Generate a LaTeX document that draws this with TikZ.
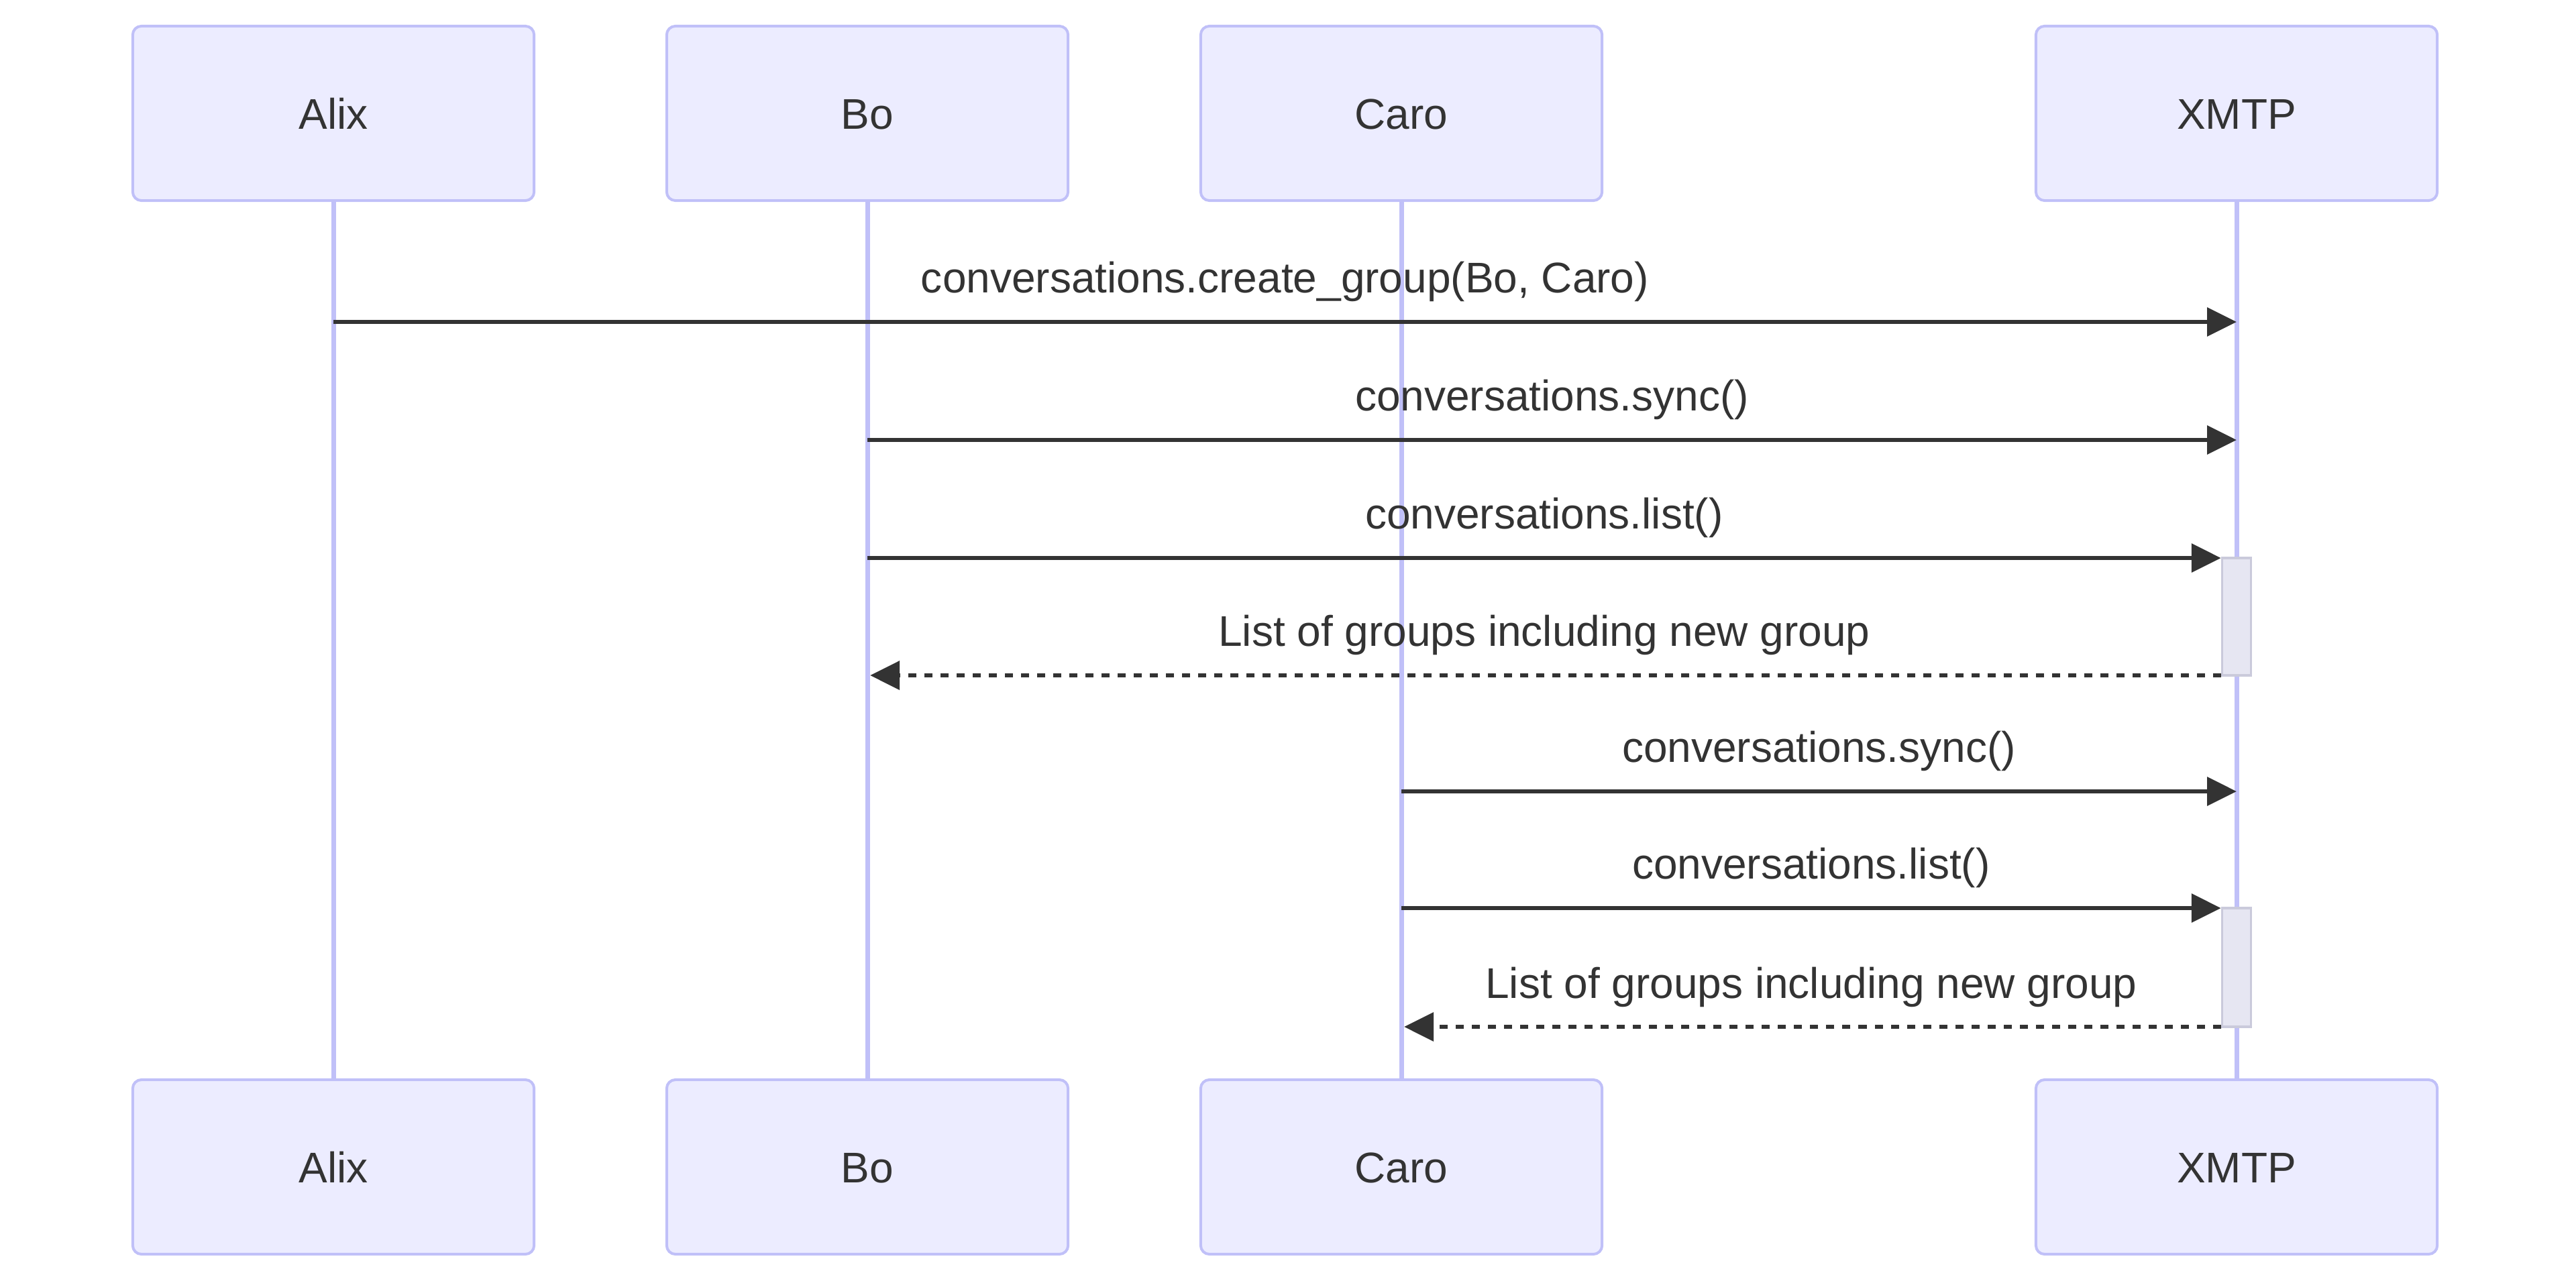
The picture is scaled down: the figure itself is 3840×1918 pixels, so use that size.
\documentclass[tikz,border=0pt]{standalone}
\usepackage{fontspec}
\setmainfont{Liberation Sans}
\usepackage{tikz}
\usetikzlibrary{arrows.meta}
\usetikzlibrary{fit}
\definecolor{actorfill}{HTML}{ECECFF}
\definecolor{actorline}{HTML}{C0C0F8}
\definecolor{textdark}{HTML}{333333}
\definecolor{actfill}{HTML}{E6E6F2}
\definecolor{actline}{HTML}{CACADB}
\tikzset{
    actor/.style={
        draw=actorline, fill=actorfill, line width=0.04cm,
        rounded corners=0.13cm,
        minimum width=5.98cm, minimum height=2.60cm,
        text height=0.47cm, text depth=0pt,
        text=textdark, font=\fontsize{18.2}{22}\selectfont
    },
    lifeline/.style={draw=actorline, line width=0.07cm},
    act/.style={
        draw=actline, fill=actfill, line width=0.035cm,
        inner sep=0pt, minimum width=0.43cm
    },
    call/.style={
        draw=textdark, line width=0.065cm,
        -{Triangle[length=0.44cm, width=0.42cm]}
    },
    reply/.style={
        call, dash pattern=on 0.12cm off 0.12cm, shorten >=0.04cm
    },
    msglabel/.style={
        anchor=base, yshift=0.43cm, inner sep=0pt,
        text=textdark, font=\fontsize{18.2}{22}\selectfont
    }
}
\newcommand{\participant}[3] {
	\node[actor] (#1top) at (#3,169) {#2};
	\node[actor] (#1bot) at (#3,1740) {#2};
	\draw[lifeline] (#1top.south) -- (#1bot.north);
}
\newcommand{\callmsg}[4] {
	\draw[#3] (#1) -- (#2) node[msglabel, pos=0.5] {#4};
}
\begin{document}
\begin{tikzpicture}[x=0.01cm, y=-0.01cm]
		\useasboundingbox (0,0) rectangle (3840,1918);

		% Participants
		\participant{alix}{Alix}{497}
		\participant{bo}{Bo}{1293}
		\participant{caro}{Caro}{2089}
		\participant{xmtp}{XMTP}{3334}

		% Message rows
		\coordinate (row1) at (0,480);
		\coordinate (row2) at (0,656);
		\coordinate (row3) at (0,832);
		\coordinate (row4) at (0,1007);
		\coordinate (row5) at (0,1180);
		\coordinate (row6) at (0,1354);
		\coordinate (row7) at (0,1531);

		% Activations on XMTP
		\node[act, fit={(xmtptop |- row3) (xmtptop |- row4)}] (act1) {};
		\node[act, fit={(xmtptop |- row6) (xmtptop |- row7)}] (act2) {};

		% Alix creates the group
		\callmsg{alixtop |- row1}{xmtptop |- row1}{call}{conversations.create\_group(Bo, Caro)}

		% Bo side
		\callmsg{botop |- row2}{xmtptop |- row2}{call}{conversations.sync()}
		\callmsg{botop |- row3}{act1.west |- row3}{call}{conversations.list()}
		\callmsg{act1.west |- row4}{botop |- row4}{reply}{List of groups including new group}

		% Caro side
		\callmsg{carotop |- row5}{xmtptop |- row5}{call}{conversations.sync()}
		\callmsg{carotop |- row6}{act2.west |- row6}{call}{conversations.list()}
		\callmsg{act2.west |- row7}{carotop |- row7}{reply}{List of groups including new group}

	\end{tikzpicture}
\end{document}
